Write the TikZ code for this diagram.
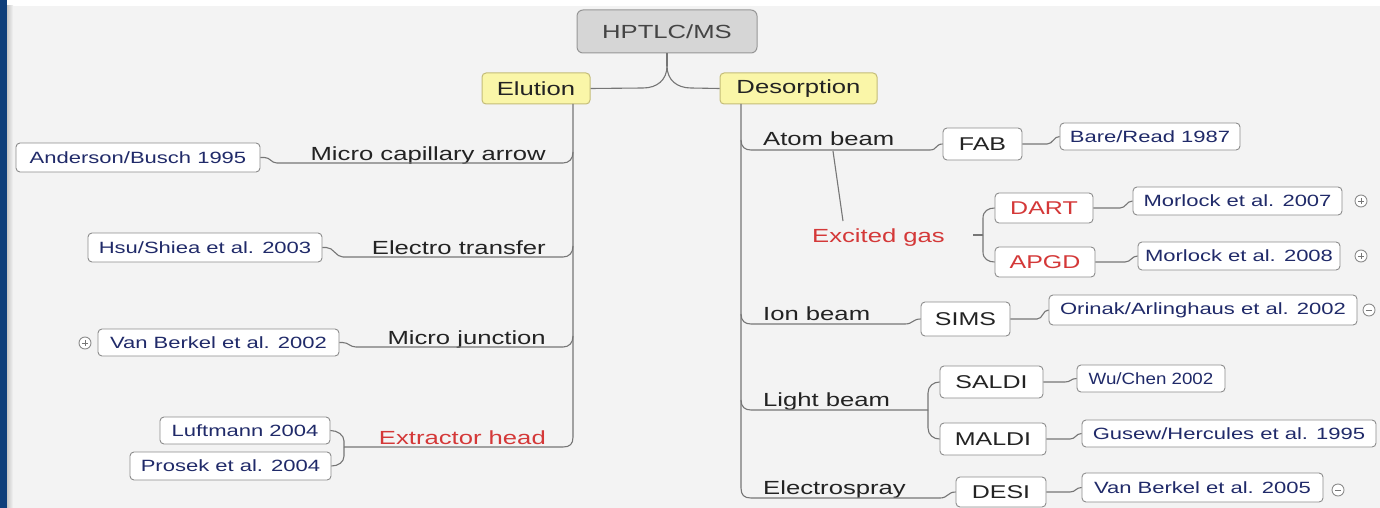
\documentclass[tikz,border=0pt]{standalone}
\usepackage{fontspec}
\setmainfont{Liberation Sans}
\usepackage{graphicx}
\usetikzlibrary{calc}
\definecolor{bg}{RGB}{243,243,243}
\definecolor{navy}{RGB}{14,62,122}
\definecolor{linegray}{RGB}{118,118,118}
\definecolor{boxgray}{RGB}{140,140,140}
\definecolor{citeblue}{RGB}{32,42,105}
\definecolor{topred}{RGB}{212,56,56}
\definecolor{yel}{RGB}{250,246,168}
\definecolor{yelborder}{RGB}{196,188,120}
\definecolor{rootfill}{RGB}{214,214,214}
\definecolor{rootborder}{RGB}{150,150,150}
\definecolor{txt}{RGB}{35,35,35}
\newcommand\sx[1]{\scalebox{1.35}[1]{#1}}
\newcommand\sxn[1]{\scalebox{1.15}[1]{#1}}
\newcommand\fsz[1]{\fontsize{#1}{#1}\selectfont}
\begin{document}
\begin{tikzpicture}[x=1pt,y=-1pt,
  conn/.style={draw=linegray,line width=1.1pt},
  box/.style={draw=boxgray,fill=white,rounded corners=4pt,line width=0.9pt,inner sep=0pt},
  cite/.style={box,text=citeblue,font=\fsz{16.3}},
  sub/.style={box,text=txt,font=\fsz{18.5}},
  subred/.style={box,text=topred,font=\fsz{18.5}},
  topic/.style={inner sep=0pt,text=txt,font=\fsz{19}},
  topicred/.style={topic,text=topred},
  mainbox/.style={draw=yelborder,fill=yel,rounded corners=4pt,line width=1pt,inner sep=0pt,text=txt,font=\fsz{19}},
  rootbox/.style={draw=rootborder,fill=rootfill,rounded corners=6pt,line width=1pt,inner sep=0pt,text=txt!85,font=\fsz{19}},
  icon/.style={circle,draw=boxgray,fill=white,line width=0.9pt,minimum size=12pt,inner sep=0pt},
  iconmark/.style={draw=linegray,line width=1pt}
]
\useasboundingbox (0,0) rectangle (1380,508);
% background
\fill[white] (0,0) rectangle (1380,508);
\fill[bg] (7,6) rectangle (1380,508);
\shade[left color=black!22,right color=bg] (7,6) rectangle (13,508);
\fill[navy] (0,0) rectangle (7,508);

% ---------- nodes ----------
\node[rootbox,minimum width=180pt,minimum height=43pt] (root) at (667,31.5) {\sx{HPTLC/MS}};
\node[mainbox,minimum width=108pt,minimum height=31pt] (elu) at (536,88.5) {\sx{Elution}};
\node[mainbox,minimum width=157pt,minimum height=31pt] (des) at (798.5,88.5) {\sx{Desorption}};

% left topics
\node[topic,anchor=base east] (mca) at (546,160) {\sx{Micro capillary arrow}};
\node[topic,anchor=base east] (etr) at (546,254) {\sx{Electro transfer}};
\node[topic,anchor=base east] (mju) at (546,344) {\sx{Micro junction}};
\node[topicred,anchor=base east] (exh) at (546,444) {\sx{Extractor head}};

% left citations
\node[cite,minimum width=244pt,minimum height=29pt] (and) at (138,157.5) {\sx{Anderson/Busch 1995}};
\node[cite,minimum width=234pt,minimum height=29pt] (hsu) at (205,247.5) {\sx{Hsu/Shiea et al. 2003}};
\node[cite,minimum width=241pt,minimum height=27pt] (vb2) at (218.5,342.5) {\sx{Van Berkel et al. 2002}};
\node[cite,minimum width=170pt,minimum height=27pt] (luf) at (245,430.5) {\sx{Luftmann 2004}};
\node[cite,minimum width=201pt,minimum height=28pt] (pro) at (230.5,466) {\sx{Prosek et al. 2004}};

% right topics
\node[topic,anchor=base west] (atb) at (763,146) {\sx{Atom beam}};
\node[topicred,anchor=base west] (exg) at (812,242) {\sx{Excited gas}};
\node[topic,anchor=base west] (ionb) at (763,320) {\sx{Ion beam}};
\node[topic,anchor=base west] (lgb) at (763,406) {\sx{Light beam}};
\node[topic,anchor=base west] (els) at (763,494) {\sx{Electrospray}};

% right method boxes
\node[sub,minimum width=79pt,minimum height=32pt] (fab) at (982.5,144) {\sx{FAB}};
\node[subred,minimum width=98pt,minimum height=30pt] (dart) at (1044,208) {\sx{DART}};
\node[subred,minimum width=100pt,minimum height=30pt] (apgd) at (1045,262) {\sx{APGD}};
\node[sub,minimum width=89pt,minimum height=34pt] (sims) at (965.5,319) {\sx{SIMS}};
\node[sub,minimum width=103pt,minimum height=32pt] (saldi) at (991.5,382) {\sx{SALDI}};
\node[sub,minimum width=106pt,minimum height=32pt] (maldi) at (993,439) {\sx{MALDI}};
\node[sub,minimum width=90pt,minimum height=30pt] (desi) at (1001,492) {\sx{DESI}};

% right citations
\node[cite,minimum width=180pt,minimum height=27pt] (bare) at (1150,136.5) {\sx{Bare/Read 1987}};
\node[cite,minimum width=209pt,minimum height=28pt] (m07) at (1237.5,201) {\sx{Morlock et al. 2007}};
\node[cite,minimum width=202pt,minimum height=28pt] (m08) at (1239,256) {\sx{Morlock et al. 2008}};
\node[cite,minimum width=308pt,minimum height=30pt] (ori) at (1203,310) {\sx{Orinak/Arlinghaus et al. 2002}};
\node[cite,minimum width=148pt,minimum height=27pt] (wu) at (1151,378.5) {\sxn{Wu/Chen 2002}};
\node[cite,minimum width=294pt,minimum height=27pt] (gus) at (1229,433.5) {\sx{Gusew/Hercules et al. 1995}};
\node[cite,minimum width=241pt,minimum height=29pt] (vb5) at (1202.5,487.5) {\sx{Van Berkel et al. 2005}};

% icons
\node[icon] (ic1) at (85,343) {};
\node[icon] (ic2) at (1361,201) {};
\node[icon] (ic3) at (1361,256) {};
\node[icon] (ic4) at (1369,310) {};
\node[icon] (ic5) at (1338,490) {};
\foreach \i in {ic1,ic2,ic3,ic4,ic5}
  \draw[iconmark] ($(\i)+(-3.2,0)$) -- ($(\i)+(3.2,0)$);
\foreach \i in {ic1,ic2,ic3}
  \draw[iconmark] ($(\i)+(0,-3.2)$) -- ($(\i)+(0,3.2)$);

% ---------- coordinates ----------
\coordinate (rj) at (667,66);
\coordinate (ltop) at (573,104);
\coordinate (rtop) at (741,104);
\coordinate (u1) at (277,163);
\coordinate (u2) at (343,257);
\coordinate (u3) at (356,347);
\coordinate (u4) at (344,447);
\coordinate (u5) at (930,150);
\coordinate (u6) at (905,324);
\coordinate (u7) at (928,410);
\coordinate (u9) at (940,498);
\coordinate (ega) at (833,151);
\coordinate (egb) at (843,221);
\coordinate (egl) at (973,235);
\coordinate (egr) at (983,235);

% ---------- connectors ----------
\draw[conn,line width=2.2pt] (root.south) -- (rj);
\draw[conn] (rj) .. controls +(0,14) and +(14,0) .. (643,88) -- (elu.east);
\draw[conn] (rj) .. controls +(0,14) and +(-14,0) .. (691,88) -- (des.west);

% Elution side
\draw[conn] (ltop) -- (573,437) .. controls +(0,7) and +(7,0) .. (563,447) -- (u4);
\draw[conn] (573,152) .. controls +(0,7) and +(6,0) .. (563,163) -- (u1);
\draw[conn] (573,246) .. controls +(0,7) and +(6,0) .. (563,257) -- (u2);
\draw[conn] (573,336) .. controls +(0,7) and +(6,0) .. (563,347) -- (u3);
\draw[conn] (and.east) -- ++(4,0) .. controls +(6,0) and +(-6,0) .. (u1);
\draw[conn] (hsu.east) -- ++(4,0) .. controls +(7,0) and +(-7,0) .. (u2);
\draw[conn] (vb2.east) -- ++(3,0) .. controls +(6,0) and +(-6,0) .. (u3);
\draw[conn] (u4) -- (344,441) .. controls +(0,-6) and +(7,0) .. (luf.east);
\draw[conn] (u4) -- (344,456) .. controls +(0,6) and +(7,0) .. (pro.east);

% Desorption side
\draw[conn] (rtop) -- (741,488) .. controls +(0,7) and +(-7,0) .. (751,498) -- (u9);
\draw[conn] (741,140) .. controls +(0,7) and +(-6,0) .. (751,150) -- (u5);
\draw[conn] (741,314) .. controls +(0,7) and +(-6,0) .. (751,324) -- (u6);
\draw[conn] (741,400) .. controls +(0,7) and +(-6,0) .. (751,410) -- (u7);
\draw[conn] (u5) .. controls +(7,0) and +(-7,0) .. (fab.west);
\draw[conn] (ega) -- (egb);
\draw[conn] (egl) -- (egr);
\draw[conn] (egr) -- (983,218) .. controls +(0,-7) and +(-6,0) .. (dart.west);
\draw[conn] (egr) -- (983,252) .. controls +(0,7) and +(-6,0) .. (apgd.west);
\draw[conn] (u6) .. controls +(8,0) and +(-8,0) .. (sims.west);
\draw[conn] (u7) -- (928,393) .. controls +(0,-7) and +(-6,0) .. (saldi.west);
\draw[conn] (u7) -- (928,428) .. controls +(0,7) and +(-6,0) .. (maldi.west);
\draw[conn] (u9) .. controls +(8,0) and +(-8,0) .. (desi.west);

\draw[conn] (fab.east) -- (1047,144) .. controls +(6,0) and +(-6,0) .. (bare.west);
\draw[conn] (dart.east) -- (1120,208) .. controls +(6,0) and +(-6,0) .. (m07.west);
\draw[conn] (apgd.east) -- (1125,262) .. controls +(6,0) and +(-6,0) .. (m08.west);
\draw[conn] (sims.east) -- (1037,319) .. controls +(6,0) and +(-6,0) .. (ori.west);
\draw[conn] (saldi.east) -- (1065,382) .. controls +(6,0) and +(-6,0) .. (wu.west);
\draw[conn] (maldi.east) -- (1070,439) .. controls +(6,0) and +(-6,0) .. (gus.west);
\draw[conn] (desi.east) -- (1070,492) .. controls +(6,0) and +(-6,0) .. (vb5.west);
\end{tikzpicture}
\end{document}
